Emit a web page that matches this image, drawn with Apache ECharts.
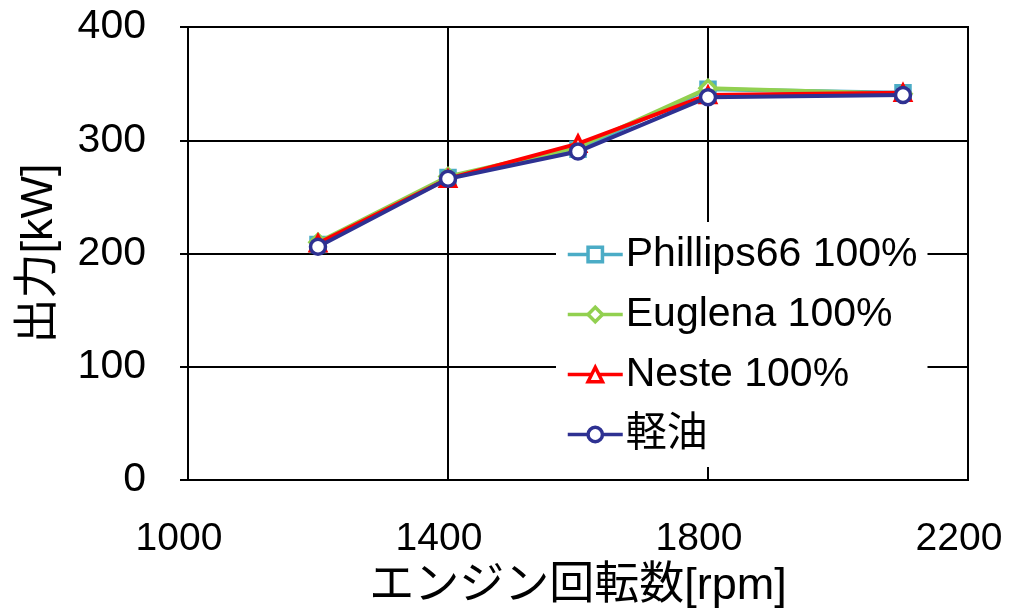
<!DOCTYPE html>
<html>
<head>
<meta charset="utf-8">
<script src="https://cdn.jsdelivr.net/npm/echarts@6/dist/echarts.min.js"></script>
<style>
  html, body { margin: 0; padding: 0; background: #fff; }
  #chart { width: 1010px; height: 612px; }
</style>
</head>
<body>
<div id="chart"></div>
<script>
// Engine speed (rpm) at each measured point
const rpm = [1200, 1400, 1600, 1800, 2100];

// Output power (kW) per fuel
const phillips66 = [208, 267, 292, 345, 342];
const euglena    = [210, 268, 294, 346, 341];
const neste      = [209, 266, 297, 340, 342];
const keiyu      = [206, 266, 290, 338, 340];

const seriesNames = ['Phillips66 100%', 'Euglena 100%', 'Neste 100%', '軽油'];
const seriesColors = ['#4BACC6', '#92D050', '#FF0000', '#2E3192'];
const seriesSymbols = ['rect', 'diamond', 'triangle', 'circle'];
const seriesSymbolSizes = [14, 16, 15, 15];
const seriesValues = [phillips66, euglena, neste, keiyu];

const FONT = '"Liberation Sans", Arial, "Noto Sans CJK JP", sans-serif';

const chart = echarts.init(document.getElementById('chart'));

const series = seriesNames.map((name, i) => ({
  name: name,
  type: 'line',
  data: rpm.map((x, j) => [x, seriesValues[i][j]]),
  symbol: seriesSymbols[i],
  symbolSize: seriesSymbolSizes[i],
  lineStyle: { width: 4, color: seriesColors[i] },
  itemStyle: { color: '#fff', borderColor: seriesColors[i], borderWidth: 3.5 },
  emphasis: { disabled: true },
  z: 2 + i
}));

chart.setOption({
  animation: false,
  backgroundColor: '#fff',
  grid: {
    left: 188, right: 42, top: 27, bottom: 132,
    outerBoundsMode: 'none',
    containLabel: false,
    show: true, borderColor: '#000', borderWidth: 2, backgroundColor: 'transparent'
  },
  legend: {
    orient: 'vertical',
    left: 556, top: 222,
    padding: [12, 10, 12, 10],
    backgroundColor: '#fff',
    itemWidth: 55, itemHeight: 18, itemGap: 19,
    itemStyle: { borderWidth: 3.5 },
    lineStyle: { width: 3.5 },
    textStyle: { fontFamily: FONT, fontSize: 41, color: '#000', padding: [0, 0, 0, -2] },
    data: seriesNames
  },
  xAxis: {
    type: 'value',
    min: 1000, max: 2200, interval: 400,
    name: 'エンジン回転数[rpm]',
    nameLocation: 'middle', nameGap: 82,
    nameTextStyle: { fontFamily: FONT, fontSize: 45, color: '#000' },
    axisLine: { show: true, lineStyle: { color: '#000', width: 2 } },
    axisTick: { show: false },
    axisLabel: {
      fontFamily: FONT, fontSize: 39, color: '#000', margin: 40,
      padding: [0, 18, 0, 0],
      formatter: v => String(v)
    },
    splitLine: { show: true, lineStyle: { color: '#000', width: 2 } }
  },
  yAxis: {
    type: 'value',
    min: 0, max: 400, interval: 100,
    name: '出力[kW]',
    nameLocation: 'middle', nameGap: 126,
    nameTextStyle: { fontFamily: FONT, fontSize: 45, color: '#000' },
    axisLine: { show: true, lineStyle: { color: '#000', width: 2 } },
    axisTick: { show: true, inside: false, length: 8, lineStyle: { color: '#000', width: 2 } },
    axisLabel: { fontFamily: FONT, fontSize: 41, color: '#000', margin: 42, formatter: v => String(v) },
    splitLine: { show: true, lineStyle: { color: '#000', width: 2 } }
  },
  series: series
});
</script>
</body>
</html>
